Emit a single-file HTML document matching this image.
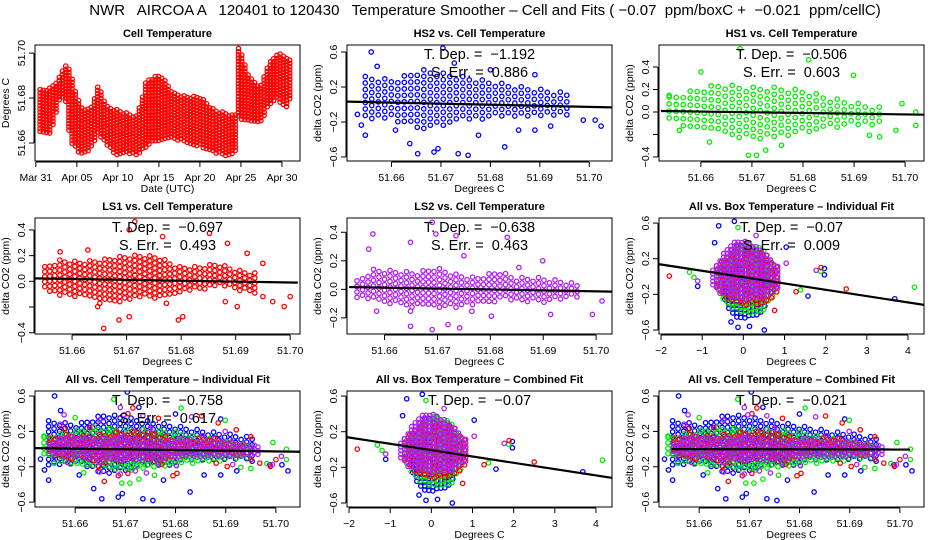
<!DOCTYPE html>
<html><head><meta charset="utf-8"><title>NWR AIRCOA Temperature Smoother</title>
<style>
html,body{margin:0;padding:0;background:#fff;}
svg{display:block;font-family:"Liberation Sans",Arial,sans-serif;}
.ttl{font-size:11px;font-weight:bold;}
.tk{font-size:10.5px;}
.ann{font-size:14.5px;white-space:pre;}
#main-title{white-space:pre;}
</style></head>
<body>
<svg id="chart" width="936" height="540" viewBox="0 0 936 540" xmlns="http://www.w3.org/2000/svg">
<rect x="0" y="0" width="936" height="540" fill="#fff"/>
<text id="main-title" x="485" y="15" text-anchor="middle" font-size="15" xml:space="preserve">NWR   AIRCOA A   120401 to 120430   Temperature Smoother – Cell and Fits ( −0.07  ppm/boxC +  −0.021  ppm/cellC)</text>
</svg>
<script>
// ---------- Panel 1: cell temperature time series (daily envelope) ----------
const cellDays=[0.52,1.74,2.96,3.57,4.18,5.4,6.62,7.64,8.66,9.88,11.1,12.3,13.5,15.2,16.8,18.4,20.0,21.7,23.3,24.3,24.7,26.1,27.4,28.2,29.4,30.6,31.2];
const cellHi=[51.6837,51.6844,51.6896,51.6956,51.6919,51.6763,51.6748,51.6859,51.6763,51.6748,51.6733,51.6719,51.6881,51.6904,51.6822,51.6807,51.6807,51.6748,51.6733,51.6719,51.7030,51.6889,51.6852,51.6941,51.7000,51.6985,51.6956];
const cellLo=[51.6644,51.6630,51.6793,51.6807,51.6600,51.6548,51.6563,51.6644,51.6585,51.6541,51.6556,51.6541,51.6585,51.6615,51.6615,51.6600,51.6585,51.6556,51.6541,51.6548,51.6711,51.6689,51.6689,51.6748,51.6793,51.6748,51.6822];
const dateTicks=[0,5,10,15,20,25,30];
const dateLabels=["Mar 31","Apr 05","Apr 10","Apr 15","Apr 20","Apr 25","Apr 30"];
const cellTempTicks=[51.66,51.68,51.70];
const cellTempLabels=["51.66","51.68","51.70"];

// ---------- HS2 ----------
const hs2CoreX=[51.6547,51.6604,51.666,51.6702,51.6743,51.6784,51.6824,51.6865,51.6906,51.6955];
const hs2CoreLo=[-0.18,-0.18,-0.29,-0.26,-0.18,-0.21,-0.14,-0.14,-0.14,-0.14];
const hs2CoreHi=[0.32,0.28,0.40,0.36,0.32,0.28,0.24,0.20,0.17,0.13];
const hs2OutX=[51.6559,51.6531,51.6539,51.6547,51.6608,51.6637,51.6653,51.6686,51.6694,51.6704,51.6727,51.6735,51.6755,51.6776,51.6829,51.6857,51.6890,51.6922,51.6988,51.7012,51.7024,51.6571,51.68,51.689];
const hs2OutY=[0.60,-0.113,-0.236,-0.351,-0.293,-0.447,-0.562,-0.543,-0.504,0.646,0.473,-0.562,-0.581,-0.351,-0.485,-0.293,-0.293,-0.247,-0.178,-0.178,-0.247,0.435,0.397,0.34];
const hs2FitX=[51.651,51.7045];
const hs2FitY=[0.033,-0.033];

// ---------- HS1 ----------
const hs1CoreX=[51.6538,51.6582,51.6637,51.6693,51.6748,51.6804,51.6851,51.6914,51.6954];
const hs1CoreLo=[-0.074,-0.16,-0.19,-0.25,-0.22,-0.19,-0.16,-0.13,-0.13];
const hs1CoreHi=[0.133,0.19,0.25,0.22,0.22,0.19,0.13,0.07,0.04];
const hs1OutX=[51.6677,51.66,51.6811,51.6899,51.6693,51.6709,51.6727,51.6617,51.6758,51.6994,51.7021,51.7021,51.6982,51.6538,51.6558,51.693,51.695];
const hs1OutY=[0.563,0.356,0.465,0.326,-0.385,-0.385,-0.34,-0.267,-0.296,0.074,0.0,-0.119,-0.163,0.148,-0.163,-0.207,-0.22];
const hs1FitX=[51.6522,51.7037];
const hs1FitY=[0.009,-0.024];

// ---------- LS1 ----------
const ls1CoreX=[51.655,51.6578,51.6614,51.665,51.6686,51.6723,51.6759,51.6795,51.6831,51.6867,51.6903,51.6939];
const ls1CoreLo=[-0.068,-0.12,-0.12,-0.171,-0.171,-0.12,-0.145,-0.094,-0.068,-0.042,-0.068,-0.094];
const ls1CoreHi=[0.114,0.166,0.153,0.166,0.192,0.205,0.192,0.114,0.114,0.14,0.088,0.062];
const ls1OutX=[51.6715,51.6705,51.6766,51.6852,51.6885,51.6921,51.6578,51.6629,51.6658,51.6686,51.6705,51.6795,51.6803,51.6881,51.6903,51.695,51.6968,51.6989,51.70,51.6647,51.6773,51.695];
const ls1OutY=[0.465,0.4,0.348,0.374,0.296,0.218,0.23,0.244,-0.366,-0.301,-0.275,-0.301,-0.275,-0.158,-0.197,-0.119,-0.158,-0.197,-0.119,-0.197,-0.171,0.14];
const ls1FitX=[51.6532,51.7014];
const ls1FitY=[0.023,-0.01];

// ---------- LS2 ----------
const ls2CoreX=[51.6548,51.6578,51.6622,51.666,51.6697,51.6735,51.6772,51.6817,51.6847,51.6892,51.6936,51.6966];
const ls2CoreLo=[-0.059,-0.082,-0.106,-0.129,-0.141,-0.129,-0.106,-0.082,-0.082,-0.094,-0.082,-0.059];
const ls2CoreHi=[0.059,0.141,0.129,0.118,0.153,0.106,0.082,0.129,0.082,0.082,0.059,0.035];
const ls2OutX=[51.669,51.6578,51.657,51.6649,51.6697,51.6735,51.6832,51.675,51.6899,51.6854,51.6585,51.6649,51.6649,51.669,51.672,51.6742,51.6802,51.6914,51.6993,51.7011,51.6765];
const ls2OutY=[0.47,0.388,0.282,0.329,0.388,0.376,0.365,0.235,0.2,0.153,-0.153,-0.153,-0.259,-0.282,-0.247,-0.27,-0.188,-0.176,-0.176,-0.082,-0.153];
const ls2FitX=[51.6533,51.703];
const ls2FitY=[0.016,-0.016];

// ---------- All vs. Box Temperature ----------
const boxBlueX=[-0.45,-0.2,0.1,0.4,0.6];
const boxBlueLo=[-0.3,-0.45,-0.48,-0.42,-0.3];
const boxBlueHi=[0.1,0.35,0.38,0.3,0.1];
const boxGreenX=[-0.6,-0.3,0.1,0.5,0.75];
const boxGreenLo=[-0.2,-0.38,-0.42,-0.38,-0.2];
const boxGreenHi=[0.1,0.3,0.38,0.3,0.1];
const boxRedX=[-0.65,-0.3,0.2,0.6,0.85];
const boxRedLo=[-0.15,-0.3,-0.33,-0.3,-0.15];
const boxRedHi=[0.12,0.3,0.3,0.25,0.08];
const boxMagX=[-0.74,-0.54,-0.3,-0.05,0.19,0.43,0.68,0.92];
const boxMagLo=[-0.12,-0.2,-0.23,-0.27,-0.27,-0.25,-0.19,-0.12];
const boxMagHi=[0.07,0.22,0.37,0.41,0.37,0.3,0.19,0.07];
const boxBlueOutX=[-0.22,-0.6,-0.7,1.04,-1.11,1.97,1.97,1.57,3.68,-0.3,-0.13,0.15,0.51];
const boxBlueOutY=[0.62,0.57,0.38,0.33,-0.11,0.09,0.02,-0.22,-0.25,-0.51,-0.57,-0.56,-0.6];
const boxGreenOutX=[-0.13,-1.31,-1.2,4.16,1.39,1.88];
const boxGreenOutY=[0.55,0.05,-0.01,-0.12,-0.15,0.06];
const boxRedOutX=[-1.8,2.5,1.28,1.89,0.76];
const boxRedOutY=[0.005,-0.14,-0.17,0.1,-0.38];
const boxMagOutX=[0.31,-1.11,1.77,1.04];
const boxMagOutY=[0.46,-0.05,0.07,0.15];
const boxFitX=[-2.04,4.41];
const boxFitY=[0.138,-0.32];
const boxTicks=[-2,-1,0,1,2,3,4];

const tempTicks=[51.66,51.67,51.68,51.69,51.70];
const tempLabels=["51.66","51.67","51.68","51.69","51.70"];
const allCellFitX=[51.6515,51.7048];
const allCellFitY=[0.011,-0.03];
const combCellFitX=[51.6545,51.702];
const combCellFitY=[0.0,-0.005];

const NS="http://www.w3.org/2000/svg";
const svg=document.getElementById('chart');
const colL=[35,347,659], rowT=[45,218,391], BW=265, BH=116;
const BLUE="#0000ff",GREEN="#00ee00",RED="#ff0000",PURP="#b020f0";

function mk(tag,attrs,parent){const e=document.createElementNS(NS,tag);for(const k in attrs)e.setAttribute(k,attrs[k]);(parent||svg).appendChild(e);return e;}
function scale(d0,d1,p0,p1){return v=>p0+(v-d0)/(d1-d0)*(p1-p0);}

function panel(c,r,xr,yr,name){
  const L=colL[c],T=rowT[r];
  const g=mk('g',{});
  
  
  const clip=mk('clipPath',{id:'clip-'+name},g);
  mk('rect',{x:L,y:T,width:BW,height:BH},clip);
  const pts=mk('g',{'clip-path':'url(#clip-'+name+')'},g);
  
  
  return {L,T,g,pts,X:scale(xr[0],xr[1],L,L+BW),Y:scale(yr[0],yr[1],T+BH,T)};
}
function frame(p,title,xt,xtl,yt,ytl,xlabel,ylabel){
  const b=mk('rect',{x:p.L,y:p.T,width:BW,height:BH,fill:'none',stroke:'#000','stroke-width':1},p.g);
  
  
  const t=mk('text',{x:p.L+BW/2,y:p.T-8,'text-anchor':'middle',class:'ttl'},p.g);t.textContent=title;
  
  
  const by=p.T+BH+1;
  const xa=mk('line',{x1:p.X(xt[0]),x2:p.X(xt[xt.length-1]),y1:by,y2:by,stroke:'#000'},p.g);
  
  
  xt.forEach((v,i)=>{const x=p.X(v);
    mk('line',{x1:x,x2:x,y1:by,y2:by+5,stroke:'#000'},p.g);
    const l=mk('text',{x:x,y:by+19,'text-anchor':'middle',class:'tk'},p.g);l.textContent=xtl[i];
    
    });
  const ax=p.L-1;
  const ya=mk('line',{x1:ax,x2:ax,y1:p.Y(yt[0]),y2:p.Y(yt[yt.length-1]),stroke:'#000'},p.g);
  
  
  yt.forEach((v,i)=>{const y=p.Y(v);
    mk('line',{x1:ax-5,x2:ax,y1:y,y2:y,stroke:'#000'},p.g);
    if(ytl[i]){const l=mk('text',{x:0,y:0,'text-anchor':'middle',class:'tk',transform:`translate(${ax-9},${y}) rotate(-90)`},p.g);l.textContent=ytl[i];
    
    }});
  const xl=mk('text',{x:p.L+BW/2,y:by+30,'text-anchor':'middle',class:'tk'},p.g);xl.textContent=xlabel;
  
  
  const yl=mk('text',{x:0,y:0,'text-anchor':'middle',class:'tk',transform:`translate(${p.L-26},${p.T+BH/2}) rotate(-90)`},p.g);yl.textContent=ylabel;
  
  
}
function dot(p,x,y,col){
  const c=mk('circle',{cx:x.toFixed(1),cy:y.toFixed(1),r:2.2,fill:'none',stroke:col,'stroke-width':1.3},p.pts);
  
  
}
function interp(xs,ys,v){if(v<=xs[0])return ys[0];for(let i=1;i<xs.length;i++){if(v<=xs[i]){const f=(v-xs[i-1])/(xs[i]-xs[i-1]);return ys[i-1]+f*(ys[i]-ys[i-1]);}}return ys[ys.length-1];}
function band(p,xs,lo,hi,col,sp){
  const x0=p.X(xs[0]),x1=p.X(xs[xs.length-1]);let k=0;
  for(let px=x0;px<=x1;px+=sp,k++){
    const dv=xs[0]+(px-x0)/(x1-x0)*(xs[xs.length-1]-xs[0]);
    const yt=p.Y(interp(xs,hi,dv)),yb=p.Y(interp(xs,lo,dv));
    for(let py=yt+(k%3)*sp/3;py<=yb;py+=sp)dot(p,px,py,col);
  }
}
function outs(p,xs,ys,col){xs.forEach((v,i)=>dot(p,p.X(v),p.Y(ys[i]),col));}
function fit(p,fx,fy){const l=mk('line',{x1:p.X(fx[0]),y1:p.Y(fy[0]),x2:p.X(fx[1]),y2:p.Y(fy[1]),stroke:'#000','stroke-width':2.2},p.pts);
  
  }
function ann(p,lines){lines.forEach((s,i)=>{const t=mk('text',{x:p.L+BW/2,y:p.T+14+i*18,'text-anchor':'middle',class:'ann'},p.g);t.textContent=s;
  
  });}

const yT6=[-0.6,-0.2,0.2,0.6], yL6=["−0.6","−0.2","0.2","0.6"];

// Panel 1
let p=panel(0,0,[-0.1,32.2],[51.652,51.7036],'cell-temperature-panel');
band(p,cellDays,cellLo,cellHi,RED,3.2);
frame(p,'Cell Temperature',dateTicks,dateLabels,cellTempTicks,cellTempLabels,'Date (UTC)','Degrees C');

// HS2
p=panel(1,0,[51.651,51.7046],[-0.646,0.68],'hs2-panel');
band(p,hs2CoreX,hs2CoreLo,hs2CoreHi,BLUE,6.5);outs(p,hs2OutX,hs2OutY,BLUE);fit(p,hs2FitX,hs2FitY);
frame(p,'HS2 vs. Cell Temperature',tempTicks,tempLabels,yT6,yL6,'Degrees C','delta CO2 (ppm)');
ann(p,['T. Dep. =  −1.192','S. Err. =  0.886']);

// HS1
p=panel(2,0,[51.6518,51.7037],[-0.436,0.596],'hs1-panel');
band(p,hs1CoreX,hs1CoreLo,hs1CoreHi,GREEN,7);outs(p,hs1OutX,hs1OutY,GREEN);fit(p,hs1FitX,hs1FitY);
frame(p,'HS1 vs. Cell Temperature',tempTicks,tempLabels,[-0.4,-0.2,0,0.2,0.4],["−0.4","","0.0","0.2","0.4"],'Degrees C','delta CO2 (ppm)');
ann(p,['T. Dep. =  −0.506','S. Err. =  0.603']);

// LS1
p=panel(0,1,[51.6532,51.7018],[-0.41,0.493],'ls1-panel');
band(p,ls1CoreX,ls1CoreLo,ls1CoreHi,RED,5);outs(p,ls1OutX,ls1OutY,RED);fit(p,ls1FitX,ls1FitY);
frame(p,'LS1 vs. Cell Temperature',tempTicks,tempLabels,[-0.4,-0.2,0,0.2,0.4],["−0.4","","0.0","0.2","0.4"],'Degrees C','delta CO2 (ppm)');
ann(p,['T. Dep. =  −0.697','S. Err. =  0.493']);

// LS2
p=panel(1,1,[51.6529,51.703],[-0.313,0.5],'ls2-panel');
band(p,ls2CoreX,ls2CoreLo,ls2CoreHi,PURP,5.5);outs(p,ls2OutX,ls2OutY,PURP);fit(p,ls2FitX,ls2FitY);
frame(p,'LS2 vs. Cell Temperature',tempTicks,tempLabels,[-0.2,0,0.2,0.4],["−0.2","0.0","0.2","0.4"],'Degrees C','delta CO2 (ppm)');
ann(p,['T. Dep. =  −0.638','S. Err. =  0.463']);

function boxPanel(c,r,name,title,lines){
  const q=panel(c,r,[-2.05,4.39],[-0.645,0.657],name);
  band(q,boxBlueX,boxBlueLo,boxBlueHi,BLUE,4);
  band(q,boxGreenX,boxGreenLo,boxGreenHi,GREEN,4.5);
  band(q,boxRedX,boxRedLo,boxRedHi,RED,5);
  band(q,boxMagX,boxMagLo,boxMagHi,PURP,3.6);
  outs(q,boxBlueOutX,boxBlueOutY,BLUE);outs(q,boxGreenOutX,boxGreenOutY,GREEN);
  outs(q,boxRedOutX,boxRedOutY,RED);outs(q,boxMagOutX,boxMagOutY,PURP);
  fit(q,boxFitX,boxFitY);
  frame(q,title,boxTicks,boxTicks.map(v=>v<0?'−'+(-v):String(v)),yT6,yL6,'Degrees C','delta CO2 (ppm)');
  ann(q,lines);
}
boxPanel(2,1,'all-box-individual-panel','All vs. Box Temperature – Individual Fit',['T. Dep. =  −0.07','S. Err. =  0.009']);
boxPanel(1,2,'all-box-combined-panel','All vs. Box Temperature – Combined Fit',['T. Dep. =  −0.07']);

function allCell(c,name,title,fx,fy,lines){
  const q=panel(c,2,[51.652,51.7048],[-0.655,0.657],name);
  band(q,hs2CoreX,hs2CoreLo,hs2CoreHi,BLUE,5.5);outs(q,hs2OutX,hs2OutY,BLUE);
  band(q,hs1CoreX,hs1CoreLo,hs1CoreHi,GREEN,5.5);outs(q,hs1OutX,hs1OutY,GREEN);
  band(q,ls1CoreX,ls1CoreLo,ls1CoreHi,RED,5.5);outs(q,ls1OutX,ls1OutY,RED);
  band(q,ls2CoreX,ls2CoreLo,ls2CoreHi,PURP,3.6);outs(q,ls2OutX,ls2OutY,PURP);
  fit(q,fx,fy);
  frame(q,title,tempTicks,tempLabels,yT6,yL6,'Degrees C','delta CO2 (ppm)');
  ann(q,lines);
}
allCell(0,'all-cell-individual-panel','All vs. Cell Temperature – Individual Fit',allCellFitX,allCellFitY,['T. Dep. =  −0.758','S. Err. =  0.617']);
allCell(2,'all-cell-combined-panel','All vs. Cell Temperature – Combined Fit',combCellFitX,combCellFitY,['T. Dep. =  −0.021']);
</script>
</body></html>
